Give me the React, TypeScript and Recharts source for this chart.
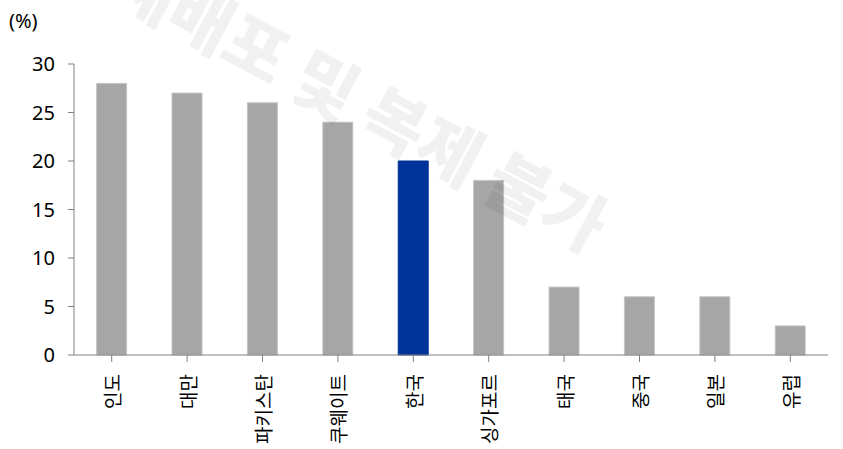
import React from 'react';
import { BarChart, Bar, XAxis, YAxis, Cell } from 'recharts';

const categories = ['인도', '대만', '파키스탄', '쿠웨이트', '한국', '싱가포르', '태국', '중국', '일본', '유럽'];
const values = [28, 27, 26, 24, 20, 18, 7, 6, 6, 3];
const highlight = '한국';
const yTicks = [0, 5, 10, 15, 20, 25, 30];

const data = categories.map((name, i) => ({ name, value: values[i] }));

const FONT = "'Noto Sans', 'Noto Sans CJK KR', sans-serif";

const XTick = (props: any) => {
  const { x, y, payload } = props;
  return (
    <text
      x={x}
      y={y + 10}
      transform={`rotate(-90, ${x}, ${y + 10})`}
      textAnchor="end"
      dominantBaseline="central"
      fontSize={19}
      fontFamily="'Noto Sans CJK KR', sans-serif"
      fill="#000"
    >
      {payload.value}
    </text>
  );
};

export default function App() {
  return (
    <div style={{ position: 'absolute', left: 0, top: 0, width: 843, height: 449, background: '#fff' }}>
      <BarChart
        width={843}
        height={449}
        data={data}
        margin={{ top: 64, right: 15, bottom: 0, left: 0 }}
        barCategoryGap="30%"
      >
        <XAxis
          dataKey="name"
          interval={0}
          tickSize={7}
          tick={<XTick />}
          axisLine={{ stroke: '#808080' }}
          tickLine={{ stroke: '#808080' }}
          height={94}
        />
        <YAxis
          domain={[0, 30]}
          ticks={yTicks}
          width={74}
          tickSize={6}
          tickMargin={13}
          axisLine={{ stroke: '#808080' }}
          tickLine={{ stroke: '#808080' }}
          tick={{ fontSize: 20, fill: '#000', fontFamily: FONT }}
        />
        <Bar dataKey="value" isAnimationActive={false}>
          {data.map((d) => (
            <Cell
              key={d.name}
              fill={d.name === highlight ? '#003399' : '#A6A6A6'}
              stroke={d.name === highlight ? '#003399' : '#C4C4C4'}
              strokeWidth={1}
            />
          ))}
        </Bar>
      </BarChart>
      <div
        style={{
          position: 'absolute',
          left: 9,
          top: 7,
          fontSize: 20,
          fontFamily: FONT,
          color: '#000',
          lineHeight: '28px',
        }}
      >
        (%)
      </div>
      <svg
        width={843}
        height={449}
        style={{ position: 'absolute', left: 0, top: 0, pointerEvents: 'none' }}
      >
        <text
          x={362}
          y={100}
          transform="rotate(28, 362, 100)"
          textAnchor="middle"
          dominantBaseline="central"
          fontSize={68}
          fontWeight={900}
          fontFamily="'Noto Sans CJK KR', sans-serif"
          fill="#000"
          fillOpacity={0.055}
        >
          재배포 및 복제 불가
        </text>
      </svg>
    </div>
  );
}
